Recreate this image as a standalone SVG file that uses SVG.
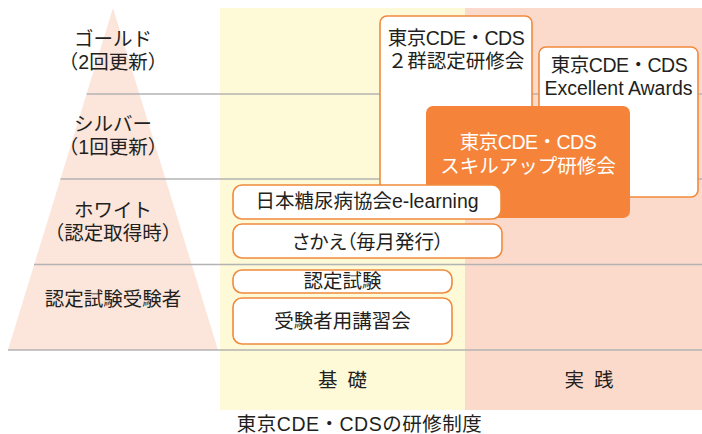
<svg xmlns="http://www.w3.org/2000/svg" width="702" height="434" viewBox="0 0 702 434">
<style>
text{font-family:"Liberation Sans","Noto Sans CJK JP",sans-serif;fill:#231f20;font-size:19.5px;text-anchor:middle}
.box{fill:#fff;stroke:#f08a3c;stroke-width:1.6}
.rule{stroke:#b3b3b3;stroke-width:1.6}
.w{fill:#fff}
.t{letter-spacing:-0.5px}
.p{font-feature-settings:"palt"}
</style>
<g id="background">
<rect x="220" y="8" width="245" height="402" fill="#fef9d7"/>
<rect x="465" y="8" width="237" height="402" fill="#fcdacb"/>
<polygon points="113,8 8,350 218,350" fill="#fce5da"/>
</g>
<g id="rules">
<line class="rule" x1="86.6" y1="94" x2="702" y2="94"/>
<line class="rule" x1="60.5" y1="179" x2="702" y2="179"/>
<line class="rule" x1="34" y1="264.5" x2="702" y2="264.5"/>
<line class="rule" x1="8" y1="350" x2="702" y2="350"/>
</g>
<g id="levels">
<text x="113" y="46">ゴールド</text>
<text x="113" y="69">（2回更新）</text>
<text x="113" y="131">シルバー</text>
<text x="113" y="154">（1回更新）</text>
<text x="113" y="217">ホワイト</text>
<text x="113" y="240">（認定取得時）</text>
<text x="113" y="306">認定試験受験者</text>
</g>
<g id="node-2gun">
<rect class="box" x="380" y="16" width="152" height="194" rx="7"/>
<text class="t" x="456" y="45">東京CDE・CDS</text>
<text x="456" y="68">２群認定研修会</text>
</g>
<g id="node-excellent">
<rect class="box" x="539" y="47" width="159" height="150" rx="7"/>
<text class="t" x="619" y="72">東京CDE・CDS</text>
<text x="618.5" y="95">Excellent Awards</text>
</g>
<g id="node-skillup">
<rect x="426" y="106" width="204" height="112" rx="7" fill="#f5843a"/>
<text class="w t" x="528" y="149">東京CDE・CDS</text>
<text class="w" x="528" y="173">スキルアップ研修会</text>
</g>
<g id="node-elearning">
<rect class="box" x="233" y="185" width="268" height="34" rx="9"/>
<text x="367" y="208">日本糖尿病協会e-learning</text>
</g>
<g id="node-sakae">
<rect class="box" x="233" y="224" width="269" height="34" rx="9"/>
<text class="p" x="368" y="249">さかえ（毎月発行）</text>
</g>
<g id="node-shiken">
<rect class="box" x="233" y="270" width="219" height="23" rx="9"/>
<text x="342.5" y="288">認定試験</text>
</g>
<g id="node-koshukai">
<rect class="box" x="233" y="298" width="219" height="46" rx="9"/>
<text x="342.5" y="328">受験者用講習会</text>
</g>
<g id="axis">
<text x="347.5" y="387" style="letter-spacing:10px">基礎</text>
<text x="594" y="387" style="letter-spacing:10px">実践</text>
<text x="359.5" y="431" style="letter-spacing:0.5px">東京CDE・CDSの研修制度</text>
</g>
</svg>
